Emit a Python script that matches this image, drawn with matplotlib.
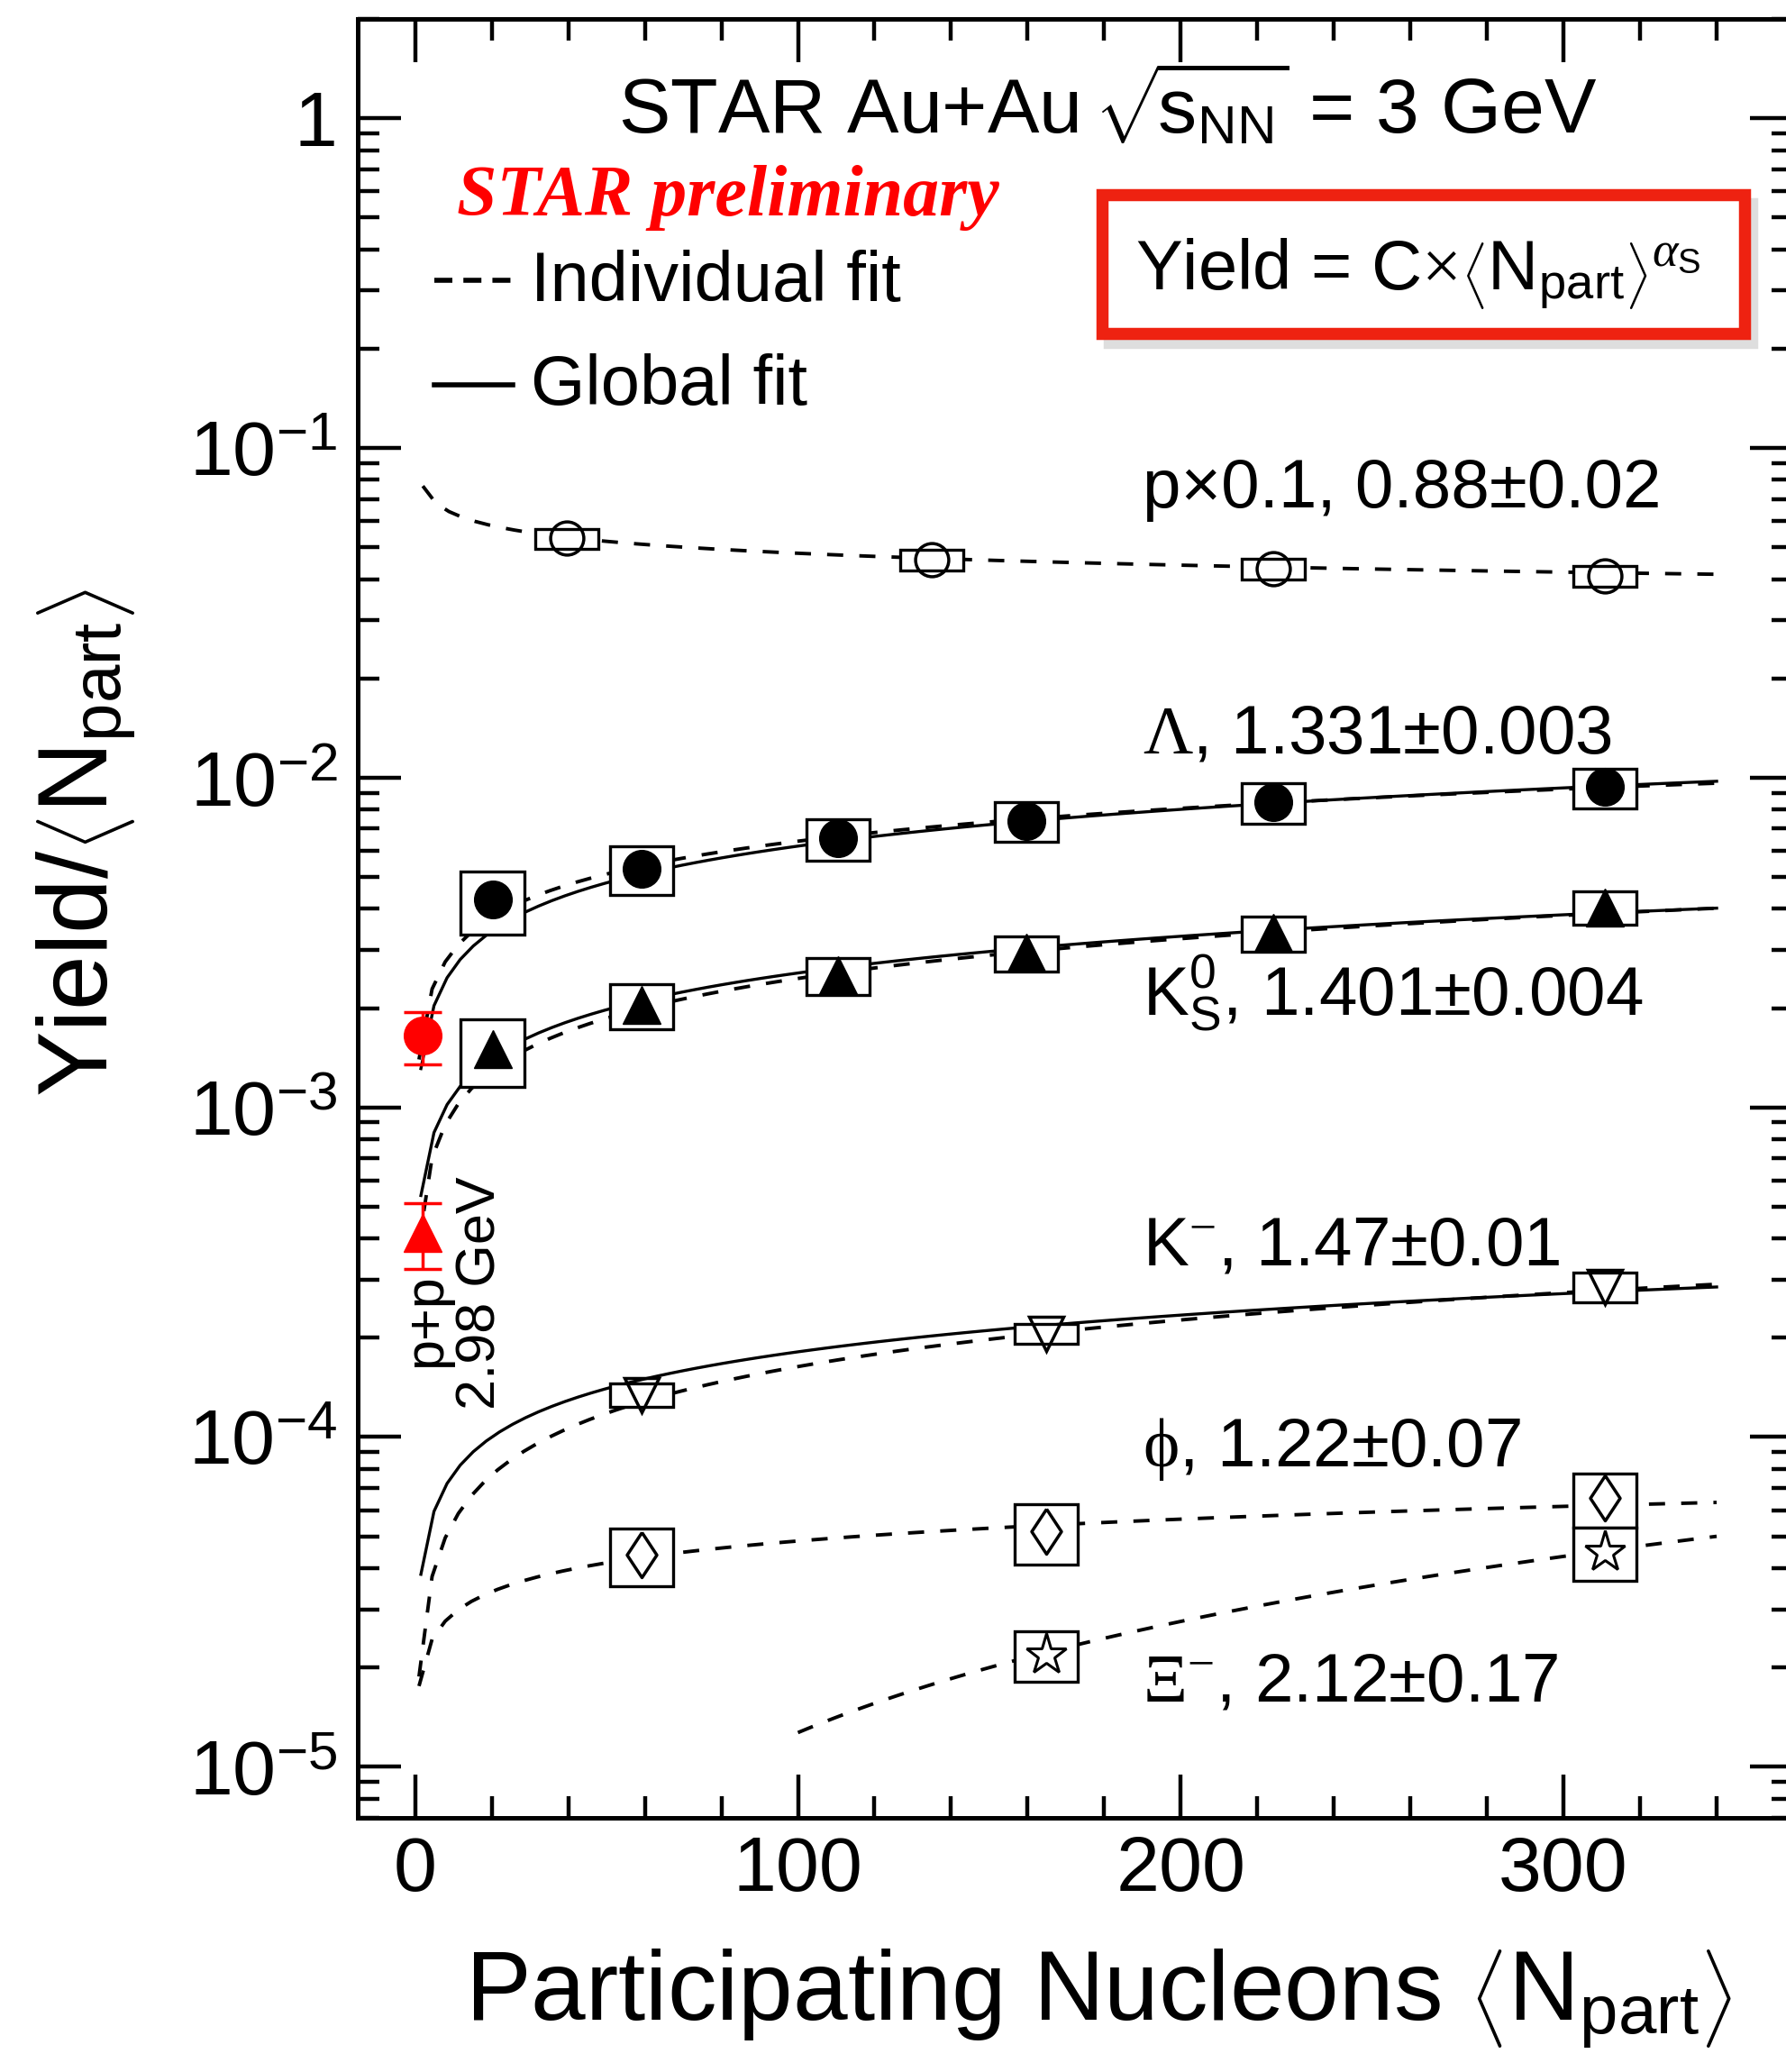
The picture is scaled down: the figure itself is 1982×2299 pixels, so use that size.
import numpy as np
import matplotlib
matplotlib.use('Agg')
import matplotlib.pyplot as plt
from matplotlib.patches import Rectangle
from matplotlib.ticker import FixedLocator, LogLocator, NullFormatter

plt.rcParams['font.family'] = ['Liberation Sans', 'DejaVu Sans']
plt.rcParams['mathtext.fontset'] = 'custom'
plt.rcParams['mathtext.rm'] = 'Liberation Serif'
plt.rcParams['mathtext.it'] = 'Liberation Serif:italic'
plt.rcParams['mathtext.bf'] = 'Liberation Serif:bold'
plt.rcParams['mathtext.sf'] = 'Liberation Sans'

# ---- Au+Au 3 GeV yields per participant (value, systematic error) ----
npart_p = [39.6, 135.0, 224.2, 310.7]
proton = [0.0532, 0.0458, 0.0430, 0.0409]          # scaled by 0.1
proton_sys = [0.0037, 0.0032, 0.0030, 0.0030]

npart_v0 = [20.2, 59.1, 110.5, 159.6, 224.1, 310.7]
lam = [0.00427, 0.00529, 0.00654, 0.00739, 0.00844, 0.00936]
lam_sys = [0.00092, 0.00089, 0.00095, 0.00102, 0.00119, 0.00130]
k0s = [0.00150, 0.00204, 0.00251, 0.00294, 0.00338, 0.00404]
k0s_sys = [0.00035, 0.00032, 0.00032, 0.00036, 0.00041, 0.00047]

npart_km = [59.1, 164.8, 310.7]
kminus = [1.343e-4, 2.06e-4, 2.86e-4]
kminus_sys = [0.11e-4, 0.14e-4, 0.30e-4]

npart_phi = [59.1, 164.8, 310.8]
phi = [4.41e-5, 5.17e-5, 6.52e-5]
phi_sys = [0.88e-5, 1.07e-5, 1.22e-5]

npart_xi = [164.8, 310.8]
xi = [2.19e-5, 4.49e-5]
xi_sys = [0.38e-5, 0.82e-5]

# p+p 2.98 GeV reference
npart_pp = [2.0]
lam_pp, lam_pp_err = [0.00165], [0.0003]
k0s_pp, k0s_pp_err = [0.000417], [0.000094]

# ---- fits: Yield = C x <Npart>^alpha  ->  Yield/<Npart> = C x <Npart>^(alpha-1) ----
species = ['p', 'lam', 'k0s', 'km', 'phi', 'xi']
alpha = [0.88, 1.331, 1.401, 1.47, 1.22, 2.12]
alpha_err = ['0.02', '0.003', '0.004', '0.01', '0.07', '0.17']
ind_norm = [0.08327, 0.001397, 0.000388, 1.878e-5, 1.757e-5, 7.306e-8]
ind_range = [(2, 340), (1, 340), (1, 340), (1, 340), (1, 340), (100, 340)]

glob_species = ['lam', 'k0s', 'km']
glob_pow = 0.37
glob_norm = [0.001128, 0.000465, 3.30e-5]
glob_range = (1.5, 340)

fig = plt.figure(figsize=(19.82, 22.99), dpi=100)
ax = fig.add_axes([397 / 1982, 282 / 2299, 1593 / 1982, 1996 / 2299])
ax.set_yscale('log')
ax.set_xlim(-15, 360)
ax.set_ylim(7e-6, 2)

# fit curves
for c, a, (lo, hi) in zip(ind_norm, alpha, ind_range):
    x = np.linspace(lo, hi, 100)
    ax.plot(x, c * x ** (a - 1), color='k', lw=2.8, ls=(0, (4.6, 4.6)), zorder=2)
for c in glob_norm:
    x = np.linspace(glob_range[0], glob_range[1], 100)
    ax.plot(x, c * x ** glob_pow, color='k', lw=2.4, zorder=2)


def sys_boxes(xs, ys, es, half=8.25):
    for x, y, e in zip(xs, ys, es):
        ax.add_patch(Rectangle((x - half, y - e), 2 * half, 2 * e, fc='white',
                               ec='black', lw=2.4, zorder=3))


sys_boxes(npart_p, proton, proton_sys)
sys_boxes(npart_v0, lam, lam_sys)
sys_boxes(npart_v0, k0s, k0s_sys)
sys_boxes(npart_km, kminus, kminus_sys)
sys_boxes(npart_phi, phi, phi_sys)
sys_boxes(npart_xi, xi, xi_sys)

thin_diamond = [(0, 1), (0.66, 0), (0, -1), (-0.66, 0), (0, 1)]
ax.plot(npart_p, proton, 'o', ms=26.5, mfc='none', mec='k', mew=2.5, zorder=4)
ax.plot(npart_v0, lam, 'o', ms=30, color='k', zorder=4)
ax.plot(npart_v0, k0s, '^', ms=30, color='k', zorder=4)
ax.plot(npart_km, kminus, 'v', ms=28, mfc='none', mec='k', mew=2.5, zorder=4)
ax.plot(npart_phi, phi, marker=thin_diamond, ls='none', ms=36, mfc='none',
        mec='k', mew=2.5, zorder=4)
ax.plot(npart_xi, xi, '*', ms=34, mfc='none', mec='k', mew=2.2, zorder=4)

ax.errorbar(npart_pp, lam_pp, yerr=lam_pp_err, fmt='o', color='red', ms=30,
            capsize=14.8, elinewidth=2.5, capthick=2.5, zorder=5)
ax.errorbar(npart_pp, k0s_pp, yerr=k0s_pp_err, fmt='^', color='red', ms=30,
            capsize=14.8, elinewidth=2.5, capthick=2.5, zorder=5)

# axes styling
for s in ax.spines.values():
    s.set_linewidth(3.6)
ax.xaxis.set_major_locator(FixedLocator([0, 100, 200, 300]))
ax.xaxis.set_minor_locator(FixedLocator(np.arange(-0, 361, 20)))
ax.yaxis.set_major_locator(FixedLocator([1e-5, 1e-4, 1e-3, 1e-2, 1e-1, 1]))
ax.yaxis.set_minor_locator(LogLocator(base=10, subs=np.arange(2, 10), numticks=20))
ax.yaxis.set_minor_formatter(NullFormatter())
ax.set_yticklabels([r'$\mathsf{10}^{\mathsf{-5}}$', r'$\mathsf{10}^{\mathsf{-4}}$',
                    r'$\mathsf{10}^{\mathsf{-3}}$', r'$\mathsf{10}^{\mathsf{-2}}$',
                    r'$\mathsf{10}^{\mathsf{-1}}$', '1'])
ax.tick_params(which='both', direction='in', top=True, right=True, width=3.2,
               labelsize=62)
ax.tick_params(which='major', length=34.6)
ax.tick_params(which='minor', length=17.3)
ax.tick_params(axis='x', pad=14)
ax.tick_params(axis='y', pad=16)

# text
ax.text(53, 0.903, r'STAR Au+Au $\!\sqrt{\!\mathsf{s}_{\mathsf{NN}}}$ = 3 GeV', fontsize=62,
        va='baseline', ha='left')
ax.text(11, 0.507, 'STAR preliminary', fontsize=57.5, color='red', family='Liberation Serif',
        style='italic', weight='bold', va='baseline', ha='left')
ax.plot([4.9, 25.4], [0.323, 0.323], color='k', lw=4, ls=(0, (3.6, 2.2)))
ax.plot([4.9, 25.4], [0.1555, 0.1555], color='k', lw=4)
ax.text(30.2, 0.2788, 'Individual fit', fontsize=56, va='baseline', ha='left')
ax.text(30.2, 0.1351, 'Global fit', fontsize=56, va='baseline', ha='left')

# formula box with shadow
ax.add_patch(Rectangle((0.5185 + 0.005, 0.825 - 0.005), 0.4474, 0.0771, transform=ax.transAxes,
                       fc='none', ec='#c8c8c8', lw=9.7, zorder=5, alpha=0.6))
ax.add_patch(Rectangle((0.5185, 0.825), 0.4474, 0.0771, transform=ax.transAxes,
                       fc='white', ec='#ee2211', lw=9.7, zorder=6))
ax.text(0.542, 0.8498,
        r'Yield = C$\times\left\langle\mathsf{N}_{\mathsf{part}}\right\rangle^{\alpha_{\mathsf{S}}}$',
        transform=ax.transAxes, fontsize=56, va='baseline', ha='left', zorder=7)

names = ['p\u00d70.1', r'$\Lambda$', r'$\mathsf{K}^{\mathsf{0}}_{\mathsf{S}}$',
         r'$\mathsf{K}^{-}$', r'$\mathrm{\phi}$', r'$\Xi^{-}$']
label_y = [0.0662, 0.01189, 0.0019, 3.33e-4, 8.17e-5, 1.58e-5]
for n, a, e, y in zip(names, alpha, alpha_err, label_y):
    ax.text(190, y, f'{n}, {a:g}\u00b1{e}', fontsize=55, va='baseline', ha='left')

ax.text(6.6, 1.633e-4, 'p+p', fontsize=44, rotation=90, rotation_mode='anchor',
        ha='left', va='baseline')
ax.text(21.0, 1.208e-4, '2.98 GeV', fontsize=44, rotation=90, rotation_mode='anchor',
        ha='left', va='baseline')

fig.text(515.8 / 1982, 57.3 / 2299,
         r'Participating Nucleons $\left\langle\mathsf{N}_{\mathsf{part}}\right\rangle$',
         fontsize=78.5, ha='left', va='baseline')
fig.text(120 / 1982, 1082 / 2299,
         r'Yield/$\left\langle\mathsf{N}_{\mathsf{part}}\right\rangle$',
         fontsize=78.5, rotation=90, rotation_mode='anchor', ha='left', va='baseline')

fig.savefig('out.png', dpi=100)
